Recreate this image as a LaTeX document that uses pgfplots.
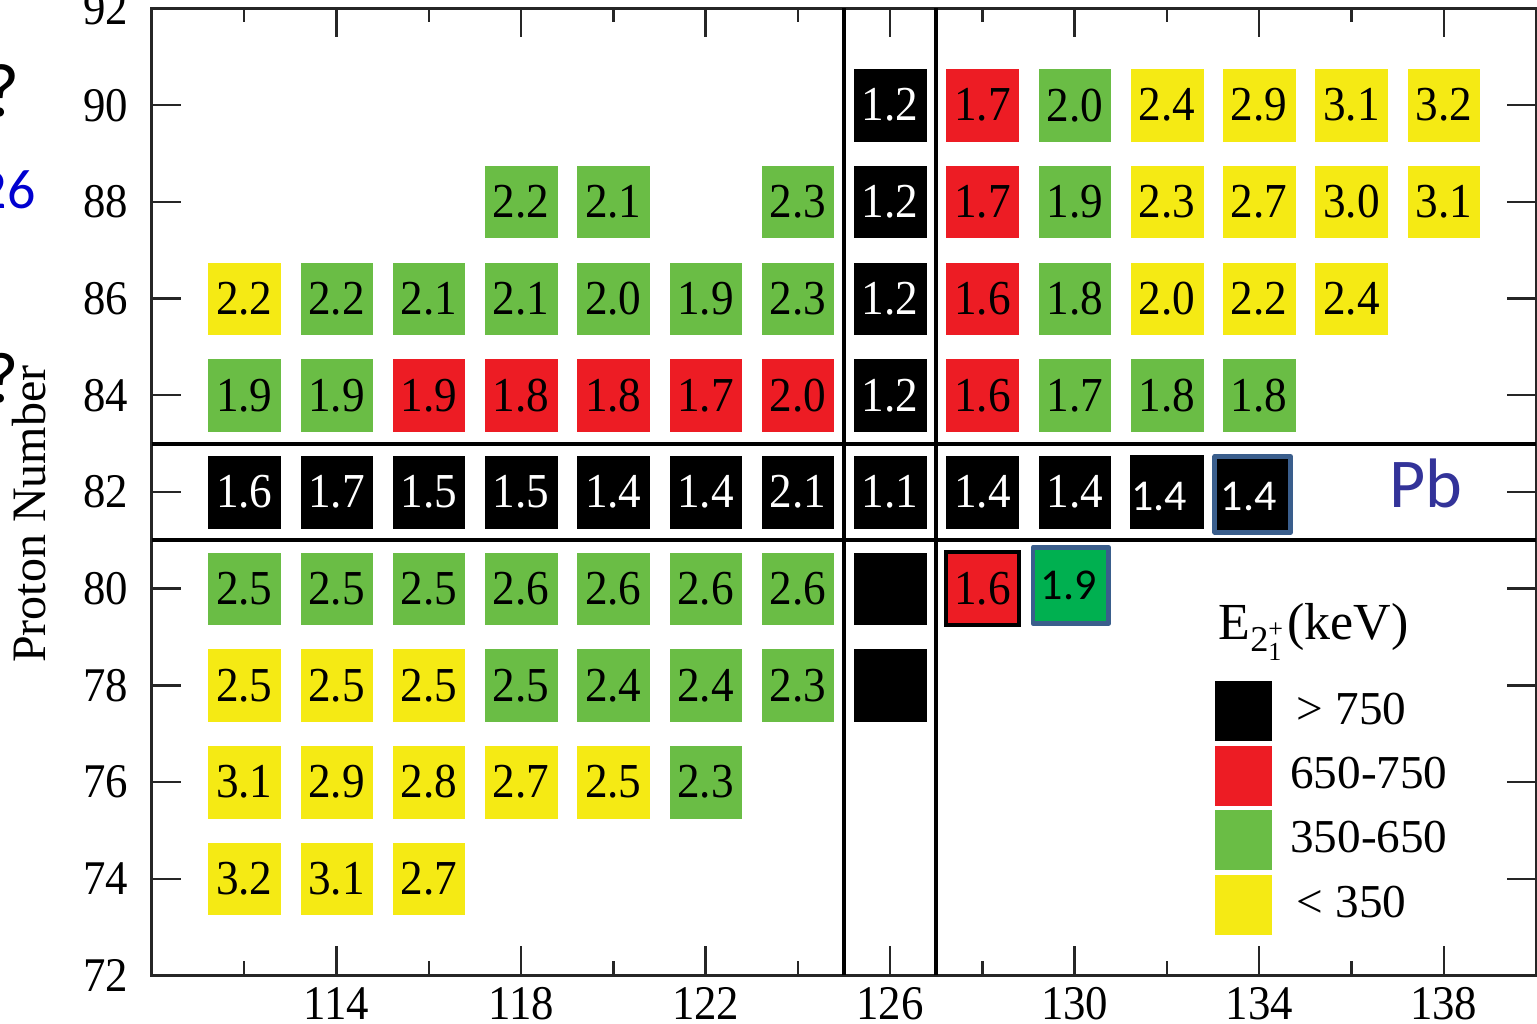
\documentclass[border=0pt]{standalone}
\usepackage{graphicx}
\usepackage{pgfplots}
\usepackage{pgfplotstable}
\pgfplotsset{compat=1.18}
\usepackage{fontspec}
\usepackage{amsmath}
\setmainfont{Liberation Serif}
\newfontfamily\tnr{Liberation Serif}
\newfontfamily\carlito{Carlito}

\definecolor{cRed}{HTML}{ED1C24}
\definecolor{cGreen}{HTML}{6ABD45}
\definecolor{cYellow}{HTML}{F5EA14}
\definecolor{cGreenB}{HTML}{00B050}
\definecolor{cBorder}{HTML}{3A5E8C}
\definecolor{cPb}{HTML}{333399}
\definecolor{cBlue}{HTML}{0000D0}

\newcommand{\boxfont}{\tnr\fontsize{11.3}{13}\selectfont}
\newcommand{\boxsans}{\carlito\fontsize{11}{13}\selectfont}

\pgfplotstableread{
x y l
126 90 1.2
126 88 1.2
126 86 1.2
126 84 1.2
112 82 1.6
114 82 1.7
116 82 1.5
118 82 1.5
120 82 1.4
122 82 1.4
124 82 2.1
126 82 1.1
128 82 1.4
130 82 1.4
}\blackdata

\pgfplotstableread{
x y
126 80
126 78
}\blacknolabel

\pgfplotstableread{
x y l
128 90 1.7
128 88 1.7
128 86 1.6
116 84 1.9
118 84 1.8
120 84 1.8
122 84 1.7
124 84 2.0
128 84 1.6
}\reddata

\pgfplotstableread{
x y l
130 90 2.0
118 88 2.2
120 88 2.1
124 88 2.3
130 88 1.9
114 86 2.2
116 86 2.1
118 86 2.1
120 86 2.0
122 86 1.9
124 86 2.3
130 86 1.8
112 84 1.9
114 84 1.9
130 84 1.7
132 84 1.8
134 84 1.8
112 80 2.5
114 80 2.5
116 80 2.5
118 80 2.6
120 80 2.6
122 80 2.6
124 80 2.6
118 78 2.5
120 78 2.4
122 78 2.4
124 78 2.3
122 76 2.3
}\greendata

\pgfplotstableread{
x y l
132 90 2.4
134 90 2.9
136 90 3.1
138 90 3.2
132 88 2.3
134 88 2.7
136 88 3.0
138 88 3.1
112 86 2.2
132 86 2.0
134 86 2.2
136 86 2.4
112 78 2.5
114 78 2.5
116 78 2.5
112 76 3.1
114 76 2.9
116 76 2.8
118 76 2.7
120 76 2.5
112 74 3.2
114 74 3.1
116 74 2.7
}\yellowdata

\pgfplotsset{
  nbox/.style={only marks, forget plot, mark=square*, mark size=8.95pt,
    mark options={solid, draw=#1, fill=#1, line width=0.1pt},
    point meta=explicit symbolic,
    nodes near coords={\scalebox{1}[1.08]{\pgfplotspointmeta}},
    every node near coord/.append style={anchor=center, font=\boxfont, text=black, inner sep=0pt}},
  sepline/.style={line width=1pt, black, forget plot},
}

\begin{document}
\begin{tikzpicture}
\begin{axis}[
  at={(0pt,0pt)}, anchor=south west,
  scale only axis, width=346pt, height=241.75pt,
  xmin=110, xmax=140, ymin=72, ymax=92,
  xtick={114,118,...,138}, minor xtick={112,116,...,136},
  ytick={72,74,...,92},
  tick align=inside,
  major tick length=7.25pt, minor tick length=3.5pt,
  tick style={line width=0.6pt, black!85},
  axis line style={line width=0.75pt, black!85},
  /pgf/number format/assume math mode=true,
  tick label style={font=\tnr\fontsize{11.2}{13}\selectfont},
  xticklabel={\scalebox{1}[1.08]{\pgfmathprintnumber{\tick}}},
  yticklabel={\scalebox{1}[1.08]{\pgfmathprintnumber{\tick}}},
  yticklabel style={xshift=-2.4pt},
  xticklabel style={inner sep=0pt, anchor=north, yshift=-2.75pt},
  ylabel={Proton Number},
  ylabel style={at={(axis description cs:-0.0889,0.477)}, anchor=center, font=\tnr\fontsize{12}{14}\selectfont},
  clip=false,
  legend cell align=left,
  legend style={at={(axis cs:133.03,78.10)}, anchor=north west, draw=none, fill=none,
    inner sep=0pt, row sep=1.1pt, column sep=4.6pt,
    font=\tnr\fontsize{11.8}{13}\selectfont, nodes={inner sep=0pt}},
]
\addplot[sepline] coordinates {(125,72) (125,92)};
\addplot[sepline] coordinates {(127,72) (127,92)};
\addplot[sepline] coordinates {(110,83) (140,83)};
\addplot[sepline] coordinates {(110,81) (140,81)};

\addplot[nbox=black, every node near coord/.append style={text=white}] table[meta=l] {\blackdata};
\addplot[only marks, forget plot, mark=square*, mark size=8.95pt, mark options={solid, draw=black, fill=black, line width=0.1pt}] table {\blacknolabel};
\addplot[nbox=cRed] table[meta=l] {\reddata};
\addplot[nbox=cGreen] table[meta=l] {\greendata};
\addplot[nbox=cYellow] table[meta=l] {\yellowdata};

% special boxes
\addplot[nbox=black, mark size=9.1pt, nodes near coords={\pgfplotspointmeta},
  every node near coord/.append style={text=white, font=\boxsans, xshift=-2pt, yshift=-1.2pt}] table[meta=l, row sep=\\] {x y l\\ 132 82 1.4\\};
\addplot[nbox=black, mark size=9.475pt, mark options={draw=cBorder, fill=black, line width=1.2pt, line join=round},
  nodes near coords={\pgfplotspointmeta},
  every node near coord/.append style={text=white, font=\boxsans, xshift=-1pt, yshift=-0.6pt}] table[meta=l, row sep=\\] {x y l\\ 133.86 81.95 1.4\\};
\addplot[nbox=cRed, mark size=9.125pt, mark options={draw=black, fill=cRed, line width=1pt}] table[meta=l, row sep=\\] {x y l\\ 128 80 1.6\\};
\addplot[nbox=cGreenB, mark size=9.475pt, mark options={draw=cBorder, fill=cGreenB, line width=1.2pt, line join=round},
  nodes near coords={\pgfplotspointmeta},
  every node near coord/.append style={font=\boxsans, xshift=-0.6pt}] table[meta=l, row sep=\\] {x y l\\ 129.92 80.07 1.9\\};

% legend
\addlegendimage{legend image code/.code={\fill[black] (0pt,-7.3pt) rectangle (13.75pt,7.3pt);}}
\addlegendentry{\kern1.5pt>\kern3.2pt750}
\addlegendimage{legend image code/.code={\fill[cRed] (0pt,-7.3pt) rectangle (13.75pt,7.3pt);}}
\addlegendentry{650-750}
\addlegendimage{legend image code/.code={\fill[cGreen] (0pt,-7.3pt) rectangle (13.75pt,7.3pt);}}
\addlegendentry{350-650}
\addlegendimage{legend image code/.code={\fill[cYellow] (0pt,-7.3pt) rectangle (13.75pt,7.3pt);}}
\addlegendentry{\kern1.5pt<\kern3.2pt350}

\node[anchor=base west, inner sep=0pt, font=\tnr\fontsize{13}{15}\selectfont] at (axis cs:133.1,78.95) {E$_{\text{2}^{\text{+}}_{\text{1}}}$(keV)};
\node[font=\carlito\fontsize{17.5}{20}\selectfont, text=cPb] at (axis cs:137.61,82.18) {Pb};

% cropped fragments at the left edge
\node[anchor=east, inner sep=0pt, font=\carlito\fontsize{14}{16}\selectfont, text=cBlue] at (axis cs:107.49,88.25) {126};
\node[inner sep=0pt, font=\carlito\fontsize{19}{21}\selectfont] at (axis cs:106.75,90.3) {?};
\node[inner sep=0pt, font=\carlito\fontsize{18}{20}\selectfont] at (axis cs:106.75,84.36) {?};
\end{axis}
\pgfresetboundingbox
\path[use as bounding box] (-38pt,-12.125pt) rectangle (346.25pt,243.875pt);
\end{tikzpicture}
\end{document}
